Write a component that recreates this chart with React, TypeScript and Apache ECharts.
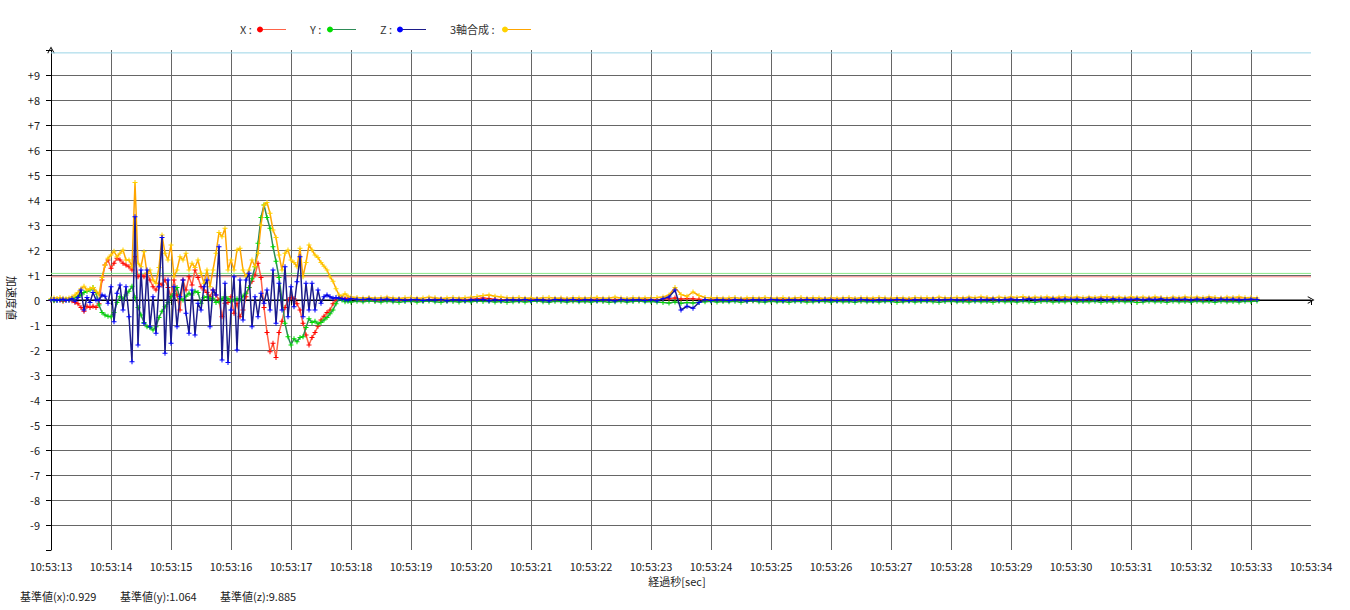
import React, { useEffect, useRef } from "react";
import * as echarts from "echarts";

// ---- data (accelerations, G) ----
// active part: samples every 0.05 s from 10:53:13.00
const activeStep = 0.05;
const activeX = [0,-0.02,0.03,0,-0.05,0.02,0,-0.03,-0.1,-0.15,
  -0.3,-0.45,-0.25,-0.3,-0.25,-0.3,-0.15,0.8,1.4,1.6,
  1.27,1.47,1.67,1.6,1.47,1.4,1.33,1.2,1.73,0.93,
  1.0,0.93,1.07,0.8,0.53,0.4,0.67,0.6,0.8,0.5,
  0.13,0.8,0.2,-0.4,0.8,0.4,0.93,0.6,1.2,0.9,
  0.53,0.4,0.3,0.13,0.4,0.2,0,-0.67,-0.13,-0.1,
  0.13,-0.53,-0.13,-0.67,-0.4,0.13,0.5,0.75,1.0,1.47,
  0.9,-0.3,-1.3,-2.07,-1.73,-2.3,-1.3,-0.85,-0.3,0,
  0.1,0.05,-0.15,-0.4,-0.93,-1.4,-1.8,-1.5,-1.3,-1.05,
  -0.8,-0.65,-0.5,-0.4,-0.15,0,0.1,0.07,0.05,0.07];
const activeY = [0.02,-0.03,0,0.02,-0.02,0.01,0,0.05,0.1,0.15,
  0.2,0.3,0.35,0.4,0.5,0.3,-0.2,-0.5,-0.6,-0.65,
  -0.67,-0.5,-0.1,0.13,0.05,0.2,0.35,0.55,0.1,-0.3,
  -0.6,-0.9,-1.07,-1.1,-1.2,-1.07,-0.7,-0.45,-0.27,-0.1,
  0.13,0.25,0.5,0.05,0,0.15,0.27,0.2,0.35,0.3,
  -0.13,0.1,0.13,0.05,0.07,-0.1,-0.07,0.05,0.13,0.05,
  -0.05,0,0.05,0,0.15,0.27,0.5,0.85,1.33,2.27,
  3.3,3.8,3.3,2.87,2.13,1.55,0.9,0,-0.93,-1.47,
  -1.8,-1.55,-1.67,-1.5,-1.47,-1.1,-0.75,-0.9,-0.85,-0.95,
  -0.9,-0.8,-0.7,-0.55,-0.4,-0.15,0.05,0,-0.07,-0.05];
const activeZ = [0,0.02,-0.02,0,0.03,-0.02,0,0.05,-0.05,0.1,
  0.4,-0.4,0.1,-0.1,0.3,0,0,0.2,0.15,-0.13,
  0.53,-0.87,0.27,0.6,-0.4,0.53,-0.67,-2.47,3.33,-1.8,
  1.2,-0.93,1.2,-1.07,0.13,-1.33,0.53,2.5,-2.13,0.8,
  -1.73,0.53,-1.07,0.13,0.8,-0.53,-1.33,0.4,-1.4,-0.13,
  -0.4,0.53,0.8,-1.07,0.4,0.2,2.13,-2.4,0.67,-2.5,
  -0.4,0.93,-2.0,0.8,-0.8,0.8,1.07,-1.07,0.13,-0.67,
  0.27,-0.13,0.4,-0.4,1.2,-0.93,0.67,-0.4,1.33,-0.67,
  0.53,-0.27,0.73,1.73,-0.67,0.67,-0.4,0.67,-0.4,0.4,
  -0.13,0.13,0.2,0.13,0.07,0.1,0.07,0.05,0.02,0];
const activeSum = [0.05,0.08,0.06,0.1,0.07,0.05,0.08,0.12,0.2,0.3,
  0.45,0.55,0.4,0.45,0.5,0.35,0.2,0.9,1.4,1.67,
  1.8,1.95,1.73,1.87,2.0,1.6,1.6,1.33,4.7,1.47,
  1.33,1.93,1.07,1.2,0.8,0.67,1.3,2.6,1.87,1.6,
  2.2,0.93,1.2,1.73,1.6,1.87,1.2,1.47,1.3,1.6,
  1.07,0.67,1.2,0.53,1.2,1.87,2.7,2.53,2.87,1.2,
  1.6,1.2,2.0,2.07,1.2,0.93,1.2,1.6,1.33,1.87,
  3.0,3.8,3.9,3.47,2.8,2.5,1.8,1.2,1.87,2.0,
  1.6,1.5,1.33,2.07,0.93,1.5,2.2,2.0,1.8,1.7,
  1.5,1.35,1.2,0.93,0.75,0.45,0.2,0.15,0.25,0.15];

// quiet part: samples every 0.1 s from 10:53:18.0 to 10:53:33.1
const quietStart = 5.0;
const quietStep = 0.1;
const quietX = [0.05,0.02,0,0.03,-0.02,0.01,0.03,0,-0.01,0.02,
  0,0.02,-0.02,0.01,0.03,0,-0.02,0.01,0.02,0,
  0.03,0.05,0.08,0.06,0.03,0.01,0,0.02,-0.01,0.01,
  0,0.02,0.01,-0.02,0.01,0.03,0,-0.01,0.02,0,
  0.01,0.03,-0.01,0,0.02,0.01,-0.02,0.01,0,0.02,
  0.01,0.02,0.03,0.05,0.08,0.04,0.06,0.05,0.03,0.01,
  0,0.02,-0.01,0.01,0.02,0,0.01,-0.01,0.02,0,
  0.01,0,0.02,-0.01,0.01,0.02,0,0.01,-0.02,0.01,
  0.02,0,0.01,0.02,-0.01,0,0.02,0.01,0,0.01,
  0.02,0,-0.01,0.01,0.02,0,0.01,0.02,0,0.01,
  0.02,0.01,0.03,0,0.02,0.01,0.03,0.02,0,0.02,
  0.03,0.01,0.02,0.04,0.02,0.01,0.03,0.02,0.04,0.01,
  0.03,0.02,0.01,0.03,0.02,0.04,0.02,0.03,0.01,0.02,
  0.03,0.01,0.02,0.04,0.02,0.03,0.01,0.02,0.03,0.01,
  0.02,0.03,0.01,0.04,0.02,0.03,0.01,0.02,0.03,0.02,
  0.01,0.02];
const quietY = [-0.08,-0.05,-0.07,-0.04,-0.06,-0.08,-0.05,-0.07,-0.09,-0.06,
  -0.05,-0.08,-0.06,-0.04,-0.07,-0.09,-0.05,-0.06,-0.08,-0.05,
  -0.07,-0.04,-0.06,-0.05,-0.08,-0.06,-0.09,-0.07,-0.05,-0.08,
  -0.06,-0.04,-0.07,-0.09,-0.05,-0.06,-0.08,-0.05,-0.07,-0.06,
  -0.08,-0.05,-0.06,-0.09,-0.07,-0.05,-0.08,-0.06,-0.04,-0.07,
  -0.06,-0.08,-0.1,-0.12,-0.08,-0.13,-0.1,-0.12,-0.09,-0.07,
  -0.05,-0.08,-0.06,-0.07,-0.05,-0.09,-0.06,-0.04,-0.07,-0.08,
  -0.05,-0.07,-0.06,-0.09,-0.05,-0.06,-0.08,-0.07,-0.05,-0.06,
  -0.08,-0.05,-0.07,-0.06,-0.09,-0.05,-0.07,-0.06,-0.08,-0.05,
  -0.06,-0.09,-0.07,-0.05,-0.08,-0.06,-0.05,-0.07,-0.09,-0.06,
  -0.05,-0.07,-0.06,-0.08,-0.05,-0.07,-0.06,-0.09,-0.05,-0.07,
  -0.06,-0.08,-0.05,-0.07,-0.09,-0.06,-0.05,-0.08,-0.06,-0.07,
  -0.05,-0.08,-0.06,-0.07,-0.05,-0.09,-0.06,-0.08,-0.05,-0.07,
  -0.06,-0.1,-0.08,-0.05,-0.07,-0.06,-0.09,-0.05,-0.07,-0.06,
  -0.08,-0.05,-0.07,-0.06,-0.09,-0.05,-0.07,-0.06,-0.08,-0.05,
  -0.06,-0.04];
const quietZ = [0.05,0.03,0.02,0.04,0.01,0.02,0.03,0,0.02,-0.01,
  0.01,0.02,-0.02,0.01,0,0.02,-0.03,0.01,0,-0.02,
  0.01,0,0.02,-0.03,0.01,-0.02,0,0.01,-0.01,0.02,
  -0.02,0.01,0,-0.03,0.02,0,-0.01,0.02,-0.02,0.01,
  0,-0.02,0.01,0,-0.03,0.02,-0.01,0,0.01,-0.02,
  0.01,-0.03,0.05,0.12,0.4,-0.4,-0.25,-0.33,-0.1,0.02,
  -0.02,0.01,0,-0.02,0.01,0,-0.03,0.01,0,-0.01,
  0.02,0,-0.02,0.01,0,-0.01,0.02,0,-0.02,0.01,
  0,-0.02,0.01,0,-0.01,0.02,0,-0.02,0.01,0,
  -0.01,0.02,0,-0.02,0.01,0,-0.01,0.02,0,0.01,
  0.02,0,0.01,0.03,0,0.02,0.01,0.03,0,0.02,
  0.03,0.01,0.02,0.04,0.01,0.03,0.02,0.04,0.01,0.03,
  0.02,0.03,0.01,0.04,0.02,0.03,0.01,0.04,0.02,0.03,
  0.02,0.04,0.01,0.03,0.02,0.04,0.01,0.03,0.02,0.03,
  0.01,0.03,0.02,0.04,0.01,0.03,0.02,0.03,0.01,0.02,
  0.03,0.02];
const quietSum = [0.12,0.1,0.08,0.1,0.07,0.09,0.11,0.08,0.06,0.09,
  0.1,0.07,0.08,0.11,0.09,0.06,0.08,0.1,0.07,0.09,
  0.11,0.14,0.18,0.2,0.15,0.12,0.09,0.08,0.1,0.07,
  0.08,0.06,0.09,0.1,0.07,0.08,0.06,0.09,0.08,0.07,
  0.09,0.1,0.07,0.08,0.11,0.08,0.06,0.09,0.07,0.08,
  0.09,0.1,0.12,0.2,0.5,0.22,0.15,0.32,0.18,0.1,
  0.08,0.09,0.07,0.08,0.1,0.06,0.08,0.09,0.07,0.1,
  0.08,0.07,0.09,0.06,0.08,0.1,0.07,0.09,0.08,0.06,
  0.09,0.07,0.08,0.1,0.06,0.09,0.08,0.07,0.1,0.08,
  0.07,0.09,0.08,0.06,0.1,0.08,0.09,0.07,0.11,0.08,
  0.09,0.1,0.08,0.11,0.09,0.12,0.1,0.08,0.11,0.09,
  0.12,0.1,0.13,0.09,0.11,0.1,0.12,0.09,0.11,0.13,
  0.1,0.12,0.09,0.11,0.1,0.12,0.13,0.1,0.11,0.09,
  0.12,0.1,0.11,0.09,0.12,0.1,0.08,0.11,0.09,0.12,
  0.1,0.11,0.09,0.12,0.1,0.08,0.11,0.1,0.12,0.09,
  0.1,0.08];

// baselines
const baseX = 0.929;
const baseY = 1.064;
const baseZ = 9.885;
const zeroLevel = 0;

// axis labels
const timePrefix = "10:53:";
const startSecond = 13;
const xMax = 21;
const legendNames = ["X :", "Y :", "Z :", "3軸合成 :"];
const xAxisName = "経過秒[sec]";
const yAxisName = "加速度値";

const FONT = '"Noto Sans CJK JP", "Noto Sans", sans-serif';
const PLUS = "path://M2,0H3V2H5V3H3V5H2V3H0V2H2Z";
const CHEVRON = "path://M5,0L10,9L9,9.6L5,2.4L1,9.6L0,9Z";

function build(active: number[], quiet: number[]) {
  const out: [number, number][] = [];
  active.forEach((v, i) => out.push([+(i * activeStep).toFixed(3), v]));
  quiet.forEach((v, j) => out.push([+(quietStart + j * quietStep).toFixed(3), v]));
  return out;
}

function levelSeries(name: string, value: number, color: string) {
  return {
    name,
    type: "line",
    z: 1,
    silent: true,
    showSymbol: false,
    symbol: "none",
    data: [[0, value], [xMax, value]],
    lineStyle: { color, width: 1, type: "solid" },
    emphasis: { disabled: true },
  };
}

export default function App() {
  const ref = useRef<HTMLDivElement>(null);
  useEffect(() => {
    if (!ref.current) return;
    const chart = echarts.init(ref.current, undefined, { renderer: "svg" });
    const mkSeries = (name: string, data: any, marker: string, line: string, z: number) => ({
      name,
      type: "line",
      data,
      z,
      symbol: PLUS,
      symbolSize: 5,
      showSymbol: true,
      showAllSymbol: true,
      itemStyle: { color: marker },
      lineStyle: { color: line, width: 1.5 },
      emphasis: { disabled: true },
      silent: true,
    });
    const legendItems: any[] = [];
    const lx = [240, 310, 380, 450];
    const dotX = [260, 330, 400, 505];
    const markers = ["#ff0000", "#00dd00", "#0000ff", "#ffd200"];
    const lines = ["#ff6347", "#2e8b57", "#1c1c8a", "#ffa500"];
    legendNames.forEach((n, k) => {
      legendItems.push({ type: "text", x: lx[k], y: 29, style: { text: n, fontSize: 11, fontFamily: FONT, fill: "#333", verticalAlign: "middle" } });
      legendItems.push({ type: "line", shape: { x1: dotX[k], y1: 29.5, x2: dotX[k] + 26, y2: 29.5 }, style: { stroke: lines[k], lineWidth: 1 } });
      legendItems.push({ type: "circle", shape: { cx: dotX[k], cy: 29.5, r: 3 }, style: { fill: markers[k] } });
    });
    const option: any = {
      animation: false,
      grid: { left: 51, right: 39, top: 50, bottom: 60, containLabel: false },
      xAxis: {
        type: "value",
        min: 0,
        max: xMax,
        interval: 1,
        axisLine: { lineStyle: { color: "#000", width: 1 }, symbol: ["none", CHEVRON], symbolSize: [10, 7] },
        axisTick: { show: true, length: 5, lineStyle: { color: "#000" } },
        axisLabel: {
          formatter: (v: number) => timePrefix + String(startSecond + v),
          fontSize: 11,
          fontFamily: FONT,
          color: "#222",
          margin: 10,
        },
        splitLine: { show: true, showMinLine: false, showMaxLine: false, lineStyle: { color: "#666", width: 1 } },
      },
      yAxis: {
        type: "value",
        min: -10,
        max: 10,
        interval: 1,
        axisLine: { lineStyle: { color: "#000", width: 1 }, symbol: ["none", CHEVRON], symbolSize: [10, 7] },
        axisTick: { show: true, length: 5, lineStyle: { color: "#000" } },
        axisLabel: {
          formatter: (v: number) => (v === 10 || v === -10 ? "" : v > 0 ? "+" + v : String(v)),
          fontSize: 11,
          fontFamily: FONT,
          color: "#222",
          margin: 11,
        },
        splitLine: { show: true, showMinLine: false, showMaxLine: false, lineStyle: { color: "#666", width: 1 } },
      },
      graphic: [
        ...legendItems,
        { type: "text", x: 677, y: 581, style: { text: xAxisName, fontSize: 11, fontFamily: FONT, fill: "#222", align: "center", verticalAlign: "middle" } },
        { type: "text", x: 12, y: 298, rotation: -Math.PI / 2, style: { text: yAxisName, fontSize: 11, fontFamily: FONT, fill: "#222", align: "center", verticalAlign: "middle" } },
        { type: "text", x: 20, y: 596, style: { text: "基準値(x):" + baseX.toFixed(3), fontSize: 11, fontFamily: FONT, fill: "#222", verticalAlign: "middle" } },
        { type: "text", x: 120, y: 596, style: { text: "基準値(y):" + baseY.toFixed(3), fontSize: 11, fontFamily: FONT, fill: "#222", verticalAlign: "middle" } },
        { type: "text", x: 220, y: 596, style: { text: "基準値(z):" + baseZ.toFixed(3), fontSize: 11, fontFamily: FONT, fill: "#222", verticalAlign: "middle" } },
      ],
      series: [
        levelSeries("zero", zeroLevel, "#000000"),
        levelSeries("baseX", baseX, "#f08080"),
        levelSeries("baseY", baseY, "#88e888"),
        levelSeries("baseZ", baseZ, "#9ad4e6"),
        mkSeries("X", build(activeX, quietX), markers[0], lines[0], 2),
        mkSeries("Y", build(activeY, quietY), markers[1], lines[1], 3),
        mkSeries("3軸合成", build(activeSum, quietSum), markers[3], lines[3], 4),
        mkSeries("Z", build(activeZ, quietZ), markers[2], lines[2], 5),
      ],
    };
    chart.setOption(option);
    return () => chart.dispose();
  }, []);
  return <div ref={ref} style={{ position: "fixed", left: 0, top: 0, width: 1350, height: 610, background: "#fff" }} />;
}
